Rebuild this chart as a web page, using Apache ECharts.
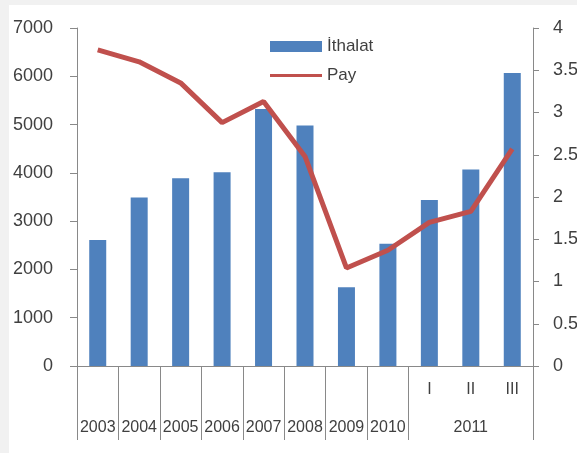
<!DOCTYPE html>
<html>
<head>
<meta charset="utf-8">
<script src="https://cdn.jsdelivr.net/npm/echarts@6/dist/echarts.min.js"></script>
<style>
  html, body { margin: 0; padding: 0; background: #f1f1f1; }
  #chart { position: absolute; left: 9px; top: 5px; width: 568px; height: 448px; background: #fff; }
</style>
</head>
<body>
<div id="chart"></div>
<script>
// veriler
const periodLabels = ['', '', '', '', '', '', '', '', 'I', 'II', 'III'];
const yearLabels = ['2003', '2004', '2005', '2006', '2007', '2008', '2009', '2010', '2011'];
const yearSpans = [1, 1, 1, 1, 1, 1, 1, 1, 3];
const importValues = [2610, 3490, 3890, 4010, 5320, 4980, 1630, 2530, 3440, 4070, 6070];
const shareValues = [3.74, 3.60, 3.35, 2.88, 3.13, 2.48, 1.16, 1.37, 1.70, 1.83, 2.57];

const txt = '#404040';
const axisGray = '#898989';
const font = 'Liberation Sans, Arial, sans-serif';

// yil gruplarinin sinirlari ve ortalari
let yearBounds = [0];
let yearCenters = [];
let acc = 0;
yearSpans.forEach(function (s) {
    yearCenters.push(acc + s / 2);
    acc += s;
    yearBounds.push(acc);
});

let myChart = echarts.init(document.getElementById('chart'));
myChart.setOption({
    animation: false,
    textStyle: { fontFamily: font, color: txt },
    legend: {
        orient: 'vertical',
        left: 261,
        top: 33,
        padding: 0,
        itemWidth: 52,
        itemHeight: 11,
        itemGap: 12,
        textStyle: { fontSize: 17, color: txt, fontFamily: font },
        data: [
            { name: 'İthalat', icon: 'rect' },
            // ince cizgi, kutunun ortasinda
            { name: 'Pay', icon: 'path://M0,0L0,0M0,4H52V7H0ZM52,11L52,11' }
        ]
    },
    grid: { left: 68, right: 44, top: 23, bottom: 87, outerBoundsMode: 'none' },
    xAxis: [
        {
            type: 'category',
            data: periodLabels,
            axisLine: { lineStyle: { color: axisGray, width: 1 } },
            axisTick: { length: 36, lineStyle: { color: axisGray } },
            axisLabel: { margin: 16, fontSize: 16, color: txt, fontFamily: font }
        },
        {
            type: 'value',
            position: 'bottom',
            min: 0,
            max: periodLabels.length,
            splitLine: { show: false },
            axisLine: { show: false },
            axisTick: {
                show: true,
                length: 74,
                customValues: yearBounds,
                lineStyle: { color: axisGray }
            },
            axisLabel: {
                show: true,
                margin: 54,
                fontSize: 16,
                color: txt,
                fontFamily: font,
                customValues: yearCenters,
                formatter: function (v) {
                    let i = yearCenters.indexOf(v);
                    return i >= 0 ? yearLabels[i] : '';
                }
            }
        }
    ],
    yAxis: [
        {
            type: 'value',
            min: 0,
            max: 7000,
            interval: 1000,
            splitLine: { show: false },
            axisLine: { show: true, lineStyle: { color: axisGray } },
            axisTick: { show: true, length: 7, lineStyle: { color: axisGray } },
            axisLabel: {
                margin: 24, fontSize: 18, color: txt, fontFamily: font,
                formatter: function (v) { return String(v); }
            }
        },
        {
            type: 'value',
            min: 0,
            max: 4,
            interval: 0.5,
            splitLine: { show: false },
            axisLine: { show: true, lineStyle: { color: axisGray } },
            axisTick: { show: true, length: 6, lineStyle: { color: axisGray } },
            axisLabel: { margin: 20, fontSize: 18, color: txt, fontFamily: font }
        }
    ],
    series: [
        {
            name: 'İthalat',
            type: 'bar',
            xAxisIndex: 0,
            yAxisIndex: 0,
            barWidth: 17,
            itemStyle: { color: '#4f81bd' },
            data: importValues
        },
        {
            name: 'Pay',
            type: 'line',
            xAxisIndex: 0,
            yAxisIndex: 1,
            symbol: 'none',
            lineStyle: { color: '#c0504d', width: 5 },
            itemStyle: { color: '#c0504d' },
            data: shareValues
        }
    ]
});
</script>
</body>
</html>
